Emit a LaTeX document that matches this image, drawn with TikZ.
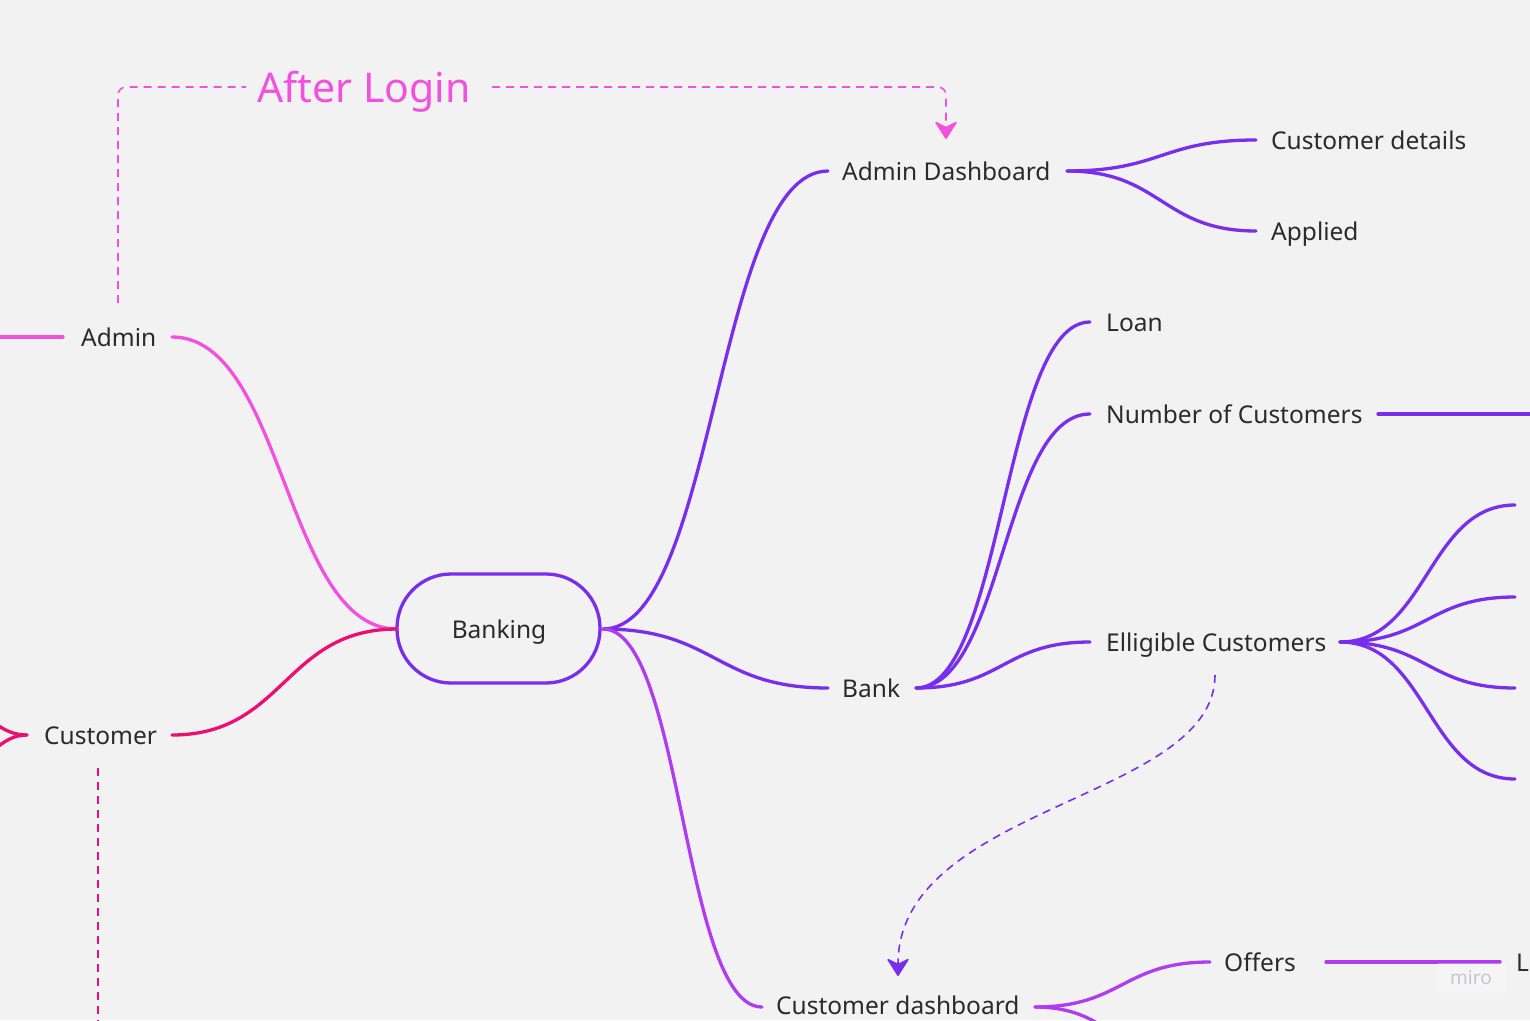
\documentclass[tikz,border=0pt]{standalone}
\usepackage{fontspec}
\setmainfont{Noto Sans}
\usetikzlibrary{arrows.meta,calc}
\definecolor{bgc}{HTML}{F2F2F2}
\definecolor{pinkA}{HTML}{F250DE}
\definecolor{magC}{HTML}{EC0E70}
\definecolor{purp}{HTML}{792EEE}
\definecolor{viol}{HTML}{AF3CF0}
\definecolor{textc}{HTML}{2B2B2B}
\definecolor{miroc}{HTML}{C9C5CD}
\tikzset{
  txt/.style={font=\fontsize{24.5}{29}\selectfont, text=textc, inner sep=0pt, anchor=base west},
  branch/.style={line width=3.3pt, line cap=round},
  dashline/.style={line width=1.6pt, dash pattern=on 8pt off 6pt},
  tip/.style={-{Stealth[length=19pt,width=24pt,inset=6pt,round]}},
}
\newcommand{\hcurve}[3]{\draw[branch,#1] let \p1=(#2), \p2=(#3) in (#2) .. controls ({(\x1+\x2)/2},\y1) and ({(\x1+\x2)/2},\y2) .. (#3);}
\begin{document}
\begin{tikzpicture}[x=1pt,y=-1pt]
\useasboundingbox (0,0) rectangle (1530,1020);
\clip (0,0) rectangle (1530,1020);
\fill[bgc] (0,0) rectangle (1530,1020);

% ---- text nodes
\node[txt] (admin) at (81,346) {Admin};
\node[txt] (customer) at (44,744) {Customer};
\node[txt] (admdash) at (842,180) {Admin Dashboard};
\node[txt] (custdet) at (1271,149) {Customer details};
\node[txt] (applied) at (1271,240) {Applied};
\node[txt] (loan) at (1106,331) {Loan};
\node[txt] (numcust) at (1106,423) {Number of Customers};
\node[txt] (elig) at (1106,651) {Elligible Customers};
\node[txt] (bank) at (842,697) {Bank};
\node[txt] (custdash) at (776,1014) {Customer dashboard};
\node[txt] (offers) at (1224,971) {Offers};
\node[txt] (lcut) at (1516,971) {L};
\node[font=\fontsize{41}{48}\selectfont, text=pinkA, inner sep=0pt, anchor=base west] (afterlogin) at (257,102) {After Login};

\node[draw=purp, line width=3.3pt, rounded corners=54pt, minimum width=203pt, minimum height=109pt] (banking) at (498.5,628.5) {};
\node[txt, anchor=base] (bankingtxt) at (499,638) {Banking};

% ---- anchor coordinates
\coordinate (bkL) at (397,629);
\coordinate (bkR) at (603,629);
\coordinate (admL) at (63,337);
\coordinate (admR) at (172,337);
\coordinate (admT) at (118,303);
\coordinate (edgeA) at (-5,337);
\coordinate (cuL) at (27,735);
\coordinate (cuR) at (172,735);
\coordinate (cuB) at (98,768);
\coordinate (cuBot) at (98,1025);
\coordinate (forkU) at (-40,700);
\coordinate (forkD) at (-40,775);
\coordinate (adL) at (828,171);
\coordinate (adR) at (1067,171);
\coordinate (adTop) at (946,139);
\coordinate (cdtL) at (1256,140);
\coordinate (apL) at (1256,231);
\coordinate (bnL) at (828,688);
\coordinate (bnR) at (916,688);
\coordinate (loL) at (1090,322);
\coordinate (ncL) at (1090,414);
\coordinate (ncR) at (1378,414);
\coordinate (ncEnd) at (1540,414);
\coordinate (elL) at (1090,642);
\coordinate (elR) at (1340,642);
\coordinate (elB) at (1215,675);
\coordinate (e1) at (1515,505);
\coordinate (e2) at (1515,597);
\coordinate (e3) at (1515,688);
\coordinate (e4) at (1515,779);
\coordinate (cdL) at (762,1007);
\coordinate (cdR) at (1035,1007);
\coordinate (cdTop) at (898,976);
\coordinate (ofL) at (1210,962);
\coordinate (ofR) at (1326,962);
\coordinate (ofEnd) at (1500,962);
\coordinate (cdD) at (1210,1075);
\coordinate (alL) at (246,87);
\coordinate (alR) at (492,87);

% ---- solid branches
\draw[branch,pinkA] (edgeA) -- (admL);
\hcurve{pinkA}{admR}{bkL}
\hcurve{magC}{cuR}{bkL}
\draw[branch,magC] (cuL) .. controls (0,735) and (-10,715) .. (forkU);
\draw[branch,magC] (cuL) .. controls (0,735) and (-10,760) .. (forkD);

\hcurve{purp}{bkR}{adL}
\hcurve{purp}{bkR}{bnL}
\hcurve{viol}{bkR}{cdL}

\hcurve{purp}{adR}{cdtL}
\hcurve{purp}{adR}{apL}

\hcurve{purp}{bnR}{loL}
\hcurve{purp}{bnR}{ncL}
\hcurve{purp}{bnR}{elL}
\draw[branch,purp] (ncR) -- (ncEnd);

\hcurve{purp}{elR}{e1}
\hcurve{purp}{elR}{e2}
\hcurve{purp}{elR}{e3}
\hcurve{purp}{elR}{e4}

\hcurve{viol}{cdR}{ofL}
\hcurve{viol}{cdR}{cdD}
\draw[branch,viol] (ofR) -- (ofEnd);

% ---- dashed connectors
\draw[dashline,pinkA,rounded corners=8pt] (admT) |- (alL);
\draw[dashline,pinkA,rounded corners=8pt,tip] (alR) -| (adTop);
\draw[dashline,magC] (cuB) -- (cuBot);
\draw[dashline,purp,tip] (elB) .. controls (1215,800) and (898,805) .. (cdTop);

% ---- watermark
\node[fill=white, fill opacity=0.3, text opacity=1, rounded corners=3pt, minimum width=70pt, minimum height=30pt,
      font=\bfseries\fontsize{19}{22}\selectfont, text=miroc] (miro) at (1471,978) {miro};
\end{tikzpicture}
\end{document}
